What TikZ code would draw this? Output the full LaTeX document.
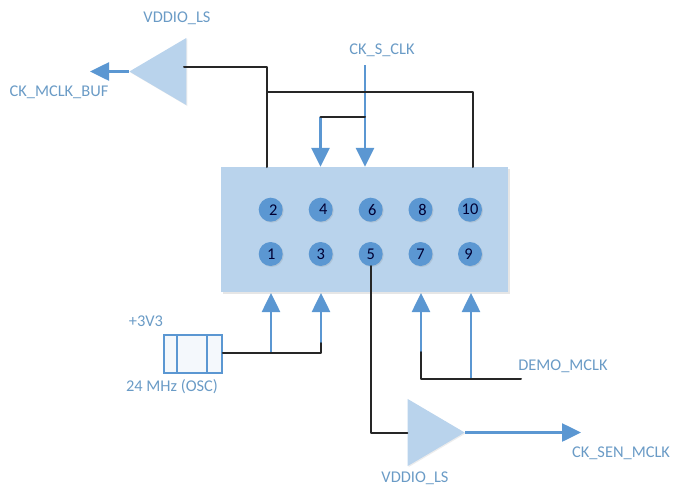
\documentclass[tikz,border=0pt]{standalone}
\usepackage{fontspec}
\setmainfont{Carlito}
\usetikzlibrary{arrows.meta,shapes.geometric,shadows}
\definecolor{boxblue}{HTML}{B9D3EC}
\definecolor{pinblue}{HTML}{5B97D2}
\definecolor{textblue}{HTML}{6A9BC6}
\definecolor{wireblack}{HTML}{262626}
\tikzset{
    label text/.style={text=textblue, font=\fontsize{16.4}{18}\selectfont, inner sep=0pt},
    pin dot/.style={circle, fill=pinblue, minimum size=24pt, inner sep=0pt, drop shadow={shadow xshift=1pt, shadow yshift=-1pt, opacity=0.2}},
    pin text/.style={text=black!80!blue, font=\fontsize{16.4}{18}\selectfont, inner sep=0pt},
    buffer/.style={isosceles triangle, isosceles triangle apex angle=61, fill=boxblue, minimum height=57pt, inner sep=0pt, drop shadow={shadow xshift=1pt, shadow yshift=-1pt, opacity=0.15}},
    black wire/.style={wireblack, line width=2pt, line cap=round, line join=round},
    blue wire/.style={pinblue, line width=2.6pt},
    blue arrow/.style={blue wire, -{Triangle[length=19pt,width=18pt]}},
}
\begin{document}
\begin{tikzpicture}[x=1pt,y=-1pt]
    \useasboundingbox (0,0) rectangle (673,488);
    % 接插件
    \node[fill=boxblue, minimum width=287pt, minimum height=125pt, inner sep=0pt, drop shadow={shadow xshift=1.5pt, shadow yshift=-1.5pt, opacity=0.2}] (header) at (364.5,229.5) {};
    % 针脚
    \foreach \n/\x/\y/\d in {2/270.7/209.7/2.5, 4/320.7/209.7/2.5, 6/370.7/209.7/1.5, 8/420.5/209.7/2, 10/470/209.7/0,
                             1/270.7/254/0.5, 3/320.7/254/0, 5/370.7/254/0, 7/420.5/254/0, 9/470/254/-1.5} {
        \node[pin dot] (pin\n) at (\x,\y) {};
        \node[pin text, xshift=\d pt] (num\n) at (\x,\y) {\n};
    }
    % 缓冲器
    \node[buffer, shape border rotate=180, anchor=apex] (bufmclk) at (129,71.5) {};
    \node[buffer, anchor=apex] (bufsen) at (465,432.5) {};
    % 晶振
    \node[draw=pinblue, fill=boxblue!15, line width=1.5pt, minimum width=58pt, minimum height=38pt, inner sep=0pt] (osc) at (193,354) {};
    \draw[pinblue, line width=1.5pt] (177,335) -- (177,373);
    \draw[pinblue, line width=1.5pt] (207,335) -- (207,373);
    % 文字
    \node[label text] (vddiotop) at (177,18) {VDDIO\_LS};
    \node[label text] (mclkbuf) at (59,92) {CK\_MCLK\_BUF};
    \node[label text] (sclk) at (382,50) {CK\_S\_CLK};
    \node[label text] (vcc) at (146,321) {+3V3};
    \node[label text] (osctext) at (172,387) {24 MHz (OSC)};
    \node[label text] (demo) at (563,366) {DEMO\_MCLK};
    \node[label text] (senmclk) at (621,453) {CK\_SEN\_MCLK};
    \node[label text] (vddiobot) at (415,478) {VDDIO\_LS};
    % 连线端点
    \coordinate (mclkend) at (90,71.5);
    \coordinate (mclkin) at (184,67);
    \coordinate (mclkup) at (267,67);
    \coordinate (mclkdown) at (267,167);
    \coordinate (loopleft) at (267,92);
    \coordinate (loopright) at (473,92);
    \coordinate (loopdown) at (473,167);
    \coordinate (sclktop) at (365,65);
    \coordinate (sclkjoin) at (365,117);
    \coordinate (sclkleft) at (320.5,117);
    \coordinate (pinone) at (271,293);
    \coordinate (pinthree) at (321,293);
    \coordinate (pinseven) at (421,293);
    \coordinate (pinnine) at (471,293);
    \coordinate (oscmid) at (271,353);
    \coordinate (oscend) at (321,353);
    \coordinate (oscturn) at (321,343);
    \coordinate (demoturn) at (421,352);
    \coordinate (democorner) at (421,379);
    \coordinate (demomid) at (471,379);
    \coordinate (demoend) at (521,379);
    \coordinate (sencorner) at (370.7,432.5);
    \coordinate (senend) at (581,432.5);
    % 蓝色箭头
    \draw[blue arrow] (bufmclk.apex) -- (mclkend);
    \draw[blue arrow] (bufsen.apex) -- (senend);
    \draw[blue arrow] (sclktop) -- (sclkjoin |- header.north);
    \draw[blue arrow] (sclkleft) -- (sclkleft |- header.north);
    \draw[blue arrow] (oscmid) -- (pinone);
    \draw[blue arrow] (oscturn) -- (pinthree);
    \draw[blue arrow] (demoturn) -- (pinseven);
    \draw[blue arrow] (demomid) -- (pinnine);
    % 黑线
    \draw[black wire] (mclkin) -- (mclkup) -- (mclkdown);
    \draw[black wire] (loopleft) -- (loopright) -- (loopdown);
    \draw[black wire] (sclkjoin) -- (sclkleft);
    \draw[black wire] (pin5.south) -- (sencorner) -- (bufsen.lower side);
    \draw[black wire] (osc.east |- oscmid) -- (oscend) -- (oscturn);
    \draw[black wire] (demoturn) -- (democorner) -- (demoend);
\end{tikzpicture}
\end{document}
